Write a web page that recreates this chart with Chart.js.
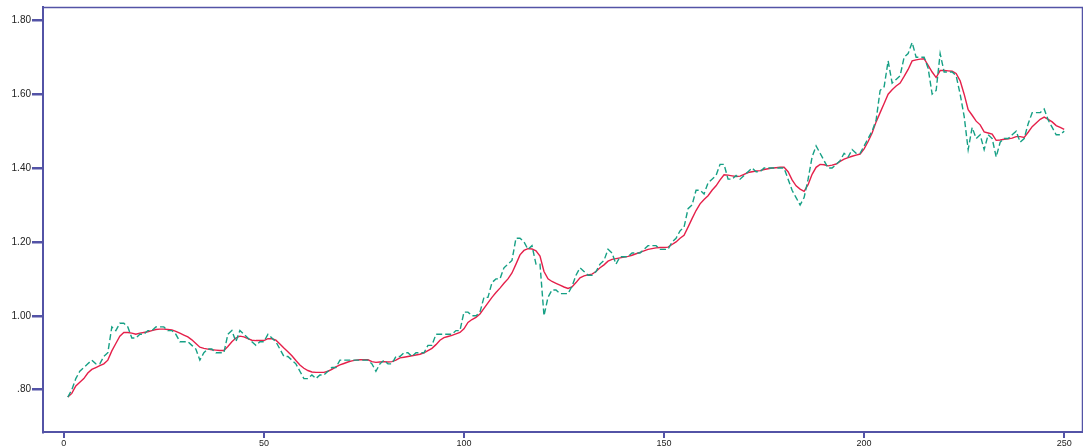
<!DOCTYPE html>
<html>
<head>
<meta charset="utf-8">
<script src="https://cdn.jsdelivr.net/npm/chart.js@4/dist/chart.umd.min.js"></script>
<style>
  html, body { margin: 0; padding: 0; background: #fff; }
  #wrap { width: 1083px; height: 447px; }
</style>
</head>
<body>
<div id="wrap"><canvas id="myChart" width="1083" height="447"></canvas></div>
<script>
// observation index 1..250
let idx = [];
for (let i = 1; i <= 250; i++) idx.push(i);

// dashed green series (raw values)
let actual = [
  0.78,0.80,0.83,0.85,0.86,0.87,0.88,0.87,0.87,0.89,
  0.90,0.97,0.96,0.98,0.98,0.97,0.94,0.94,0.95,0.95,
  0.96,0.96,0.97,0.97,0.97,0.96,0.96,0.95,0.93,0.93,
  0.93,0.92,0.91,0.88,0.90,0.91,0.91,0.90,0.90,0.90,
  0.95,0.96,0.93,0.96,0.95,0.94,0.93,0.92,0.93,0.93,
  0.95,0.94,0.93,0.91,0.89,0.89,0.88,0.87,0.85,0.83,
  0.83,0.84,0.83,0.84,0.84,0.85,0.86,0.86,0.88,0.88,
  0.88,0.88,0.88,0.88,0.88,0.88,0.87,0.85,0.87,0.88,
  0.87,0.87,0.89,0.89,0.90,0.90,0.89,0.90,0.90,0.90,
  0.92,0.92,0.95,0.95,0.95,0.95,0.95,0.96,0.96,1.01,
  1.01,1.00,1.00,1.01,1.05,1.05,1.09,1.10,1.10,1.13,
  1.14,1.15,1.21,1.21,1.20,1.18,1.19,1.14,1.14,1.00,
  1.05,1.07,1.07,1.06,1.06,1.06,1.08,1.11,1.13,1.12,
  1.11,1.11,1.12,1.14,1.15,1.18,1.17,1.14,1.16,1.16,
  1.16,1.17,1.17,1.17,1.18,1.19,1.19,1.19,1.18,1.18,
  1.18,1.20,1.21,1.23,1.24,1.29,1.30,1.34,1.34,1.33,
  1.36,1.37,1.38,1.41,1.41,1.37,1.37,1.38,1.37,1.38,
  1.39,1.40,1.39,1.39,1.40,1.40,1.40,1.40,1.40,1.40,
  1.37,1.34,1.32,1.30,1.32,1.37,1.43,1.46,1.44,1.42,
  1.40,1.40,1.41,1.42,1.44,1.43,1.45,1.44,1.44,1.46,
  1.48,1.50,1.53,1.61,1.62,1.69,1.63,1.64,1.65,1.70,
  1.71,1.74,1.70,1.70,1.70,1.67,1.60,1.61,1.71,1.66,
  1.66,1.66,1.65,1.60,1.54,1.45,1.51,1.48,1.49,1.45,
  1.49,1.48,1.43,1.47,1.48,1.48,1.49,1.50,1.47,1.48,
  1.52,1.55,1.55,1.55,1.56,1.53,1.51,1.49,1.49,1.50
];

// solid red series (smoothed)
let smooth = [
  0.780,0.790,0.810,0.820,0.830,0.845,0.855,0.860,0.865,0.870,
  0.880,0.905,0.925,0.945,0.955,0.955,0.953,0.950,0.953,0.955,
  0.957,0.960,0.963,0.964,0.964,0.963,0.962,0.958,0.953,0.948,
  0.943,0.935,0.925,0.915,0.912,0.910,0.908,0.907,0.906,0.906,
  0.917,0.930,0.940,0.945,0.943,0.938,0.934,0.933,0.933,0.933,
  0.938,0.938,0.934,0.924,0.913,0.903,0.892,0.879,0.867,0.858,
  0.852,0.848,0.847,0.847,0.847,0.850,0.855,0.862,0.867,0.871,
  0.875,0.878,0.880,0.881,0.881,0.881,0.876,0.874,0.875,0.876,
  0.875,0.876,0.880,0.886,0.888,0.890,0.892,0.894,0.896,0.900,
  0.906,0.912,0.922,0.934,0.941,0.944,0.947,0.951,0.955,0.965,
  0.982,0.990,0.996,1.005,1.020,1.035,1.050,1.063,1.075,1.088,
  1.100,1.116,1.140,1.165,1.177,1.182,1.181,1.176,1.162,1.120,
  1.100,1.093,1.088,1.083,1.078,1.074,1.078,1.090,1.103,1.108,
  1.111,1.113,1.120,1.130,1.138,1.148,1.153,1.155,1.157,1.159,
  1.161,1.164,1.168,1.172,1.176,1.180,1.182,1.184,1.185,1.185,
  1.186,1.193,1.200,1.210,1.218,1.240,1.263,1.285,1.303,1.315,
  1.325,1.340,1.352,1.368,1.382,1.381,1.379,1.377,1.378,1.383,
  1.388,1.390,1.392,1.393,1.396,1.398,1.400,1.401,1.402,1.402,
  1.390,1.368,1.352,1.343,1.337,1.355,1.383,1.402,1.410,1.409,
  1.406,1.408,1.411,1.418,1.424,1.428,1.432,1.435,1.438,1.452,
  1.472,1.495,1.525,1.550,1.575,1.600,1.612,1.622,1.630,1.648,
  1.667,1.690,1.693,1.695,1.696,1.678,1.660,1.645,1.664,1.664,
  1.663,1.662,1.656,1.636,1.600,1.558,1.543,1.527,1.517,1.498,
  1.495,1.492,1.475,1.476,1.478,1.479,1.481,1.485,1.485,1.483,
  1.497,1.512,1.522,1.532,1.538,1.532,1.525,1.515,1.510,1.505
];

let xTicks = [0, 50, 100, 150, 200, 250];
let yTicks = [0.8, 1.0, 1.2, 1.4, 1.6, 1.8];

let axisColor = '#5353a6';

// frame along top and right edge of the plot
let frame = {
  id: 'frame',
  afterDraw(chart) {
    let a = chart.chartArea, c = chart.ctx;
    c.save();
    c.strokeStyle = axisColor;
    c.lineWidth = 1.5;
    c.beginPath();
    c.moveTo(a.left, a.top + 0.5);
    c.lineTo(a.right - 0.5, a.top + 0.5);
    c.lineTo(a.right - 0.5, a.bottom);
    c.stroke();
    c.restore();
  }
};

let ctx = document.getElementById('myChart').getContext('2d');

let chart = new Chart(ctx, {
  type: 'line',
  data: {
    datasets: [{
      data: idx.map((d, i) => ({x: d, y: actual[i]})),
      borderColor: '#16a085',
      borderWidth: 1.4,
      borderDash: [6, 3],
      pointRadius: 0,
      tension: 0
    }, {
      data: idx.map((d, i) => ({x: d, y: smooth[i]})),
      borderColor: '#e5204a',
      borderWidth: 1.4,
      pointRadius: 0,
      tension: 0
    }]
  },
  options: {
    responsive: false,
    animation: false,
    layout: { padding: { top: 5, right: 0, left: 0, bottom: 0 } },
    plugins: { legend: { display: false }, tooltip: { enabled: false } },
    scales: {
      x: {
        type: 'linear',
        min: -5.2,
        max: 254.7,
        afterBuildTicks: s => { s.ticks = xTicks.map(v => ({value: v})); },
        afterFit: s => { s.height = 15; },
        border: { color: axisColor, width: 2 },
        grid: { drawOnChartArea: false, color: axisColor, lineWidth: 2, tickLength: 6 },
        ticks: { color: '#222', font: { family: 'Liberation Sans', size: 9 }, padding: 0, maxRotation: 0 }
      },
      y: {
        min: 0.6855,
        max: 1.836,
        afterBuildTicks: s => { s.ticks = yTicks.map(v => ({value: v})); },
        afterFit: s => { s.width = 43; },
        border: { color: axisColor, width: 2 },
        grid: { drawOnChartArea: false, color: axisColor, lineWidth: 2.5, tickLength: 11 },
        ticks: {
          color: '#222',
          font: { family: 'Liberation Sans', size: 10 },
          padding: 1,
          callback: v => v < 1 ? v.toFixed(2).slice(1) : v.toFixed(2)
        }
      }
    }
  },
  plugins: [frame]
});
</script>
</body>
</html>
